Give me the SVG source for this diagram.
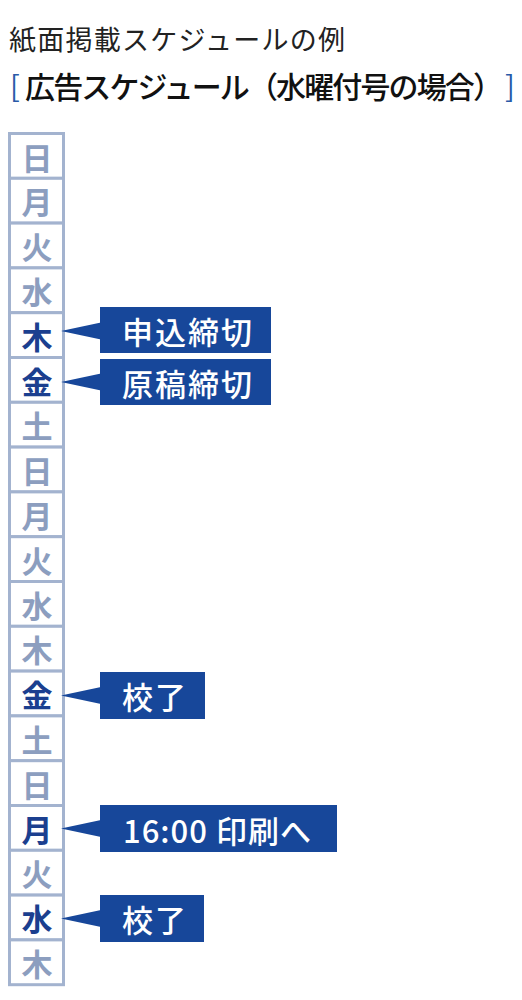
<svg xmlns="http://www.w3.org/2000/svg" width="522" height="1000" viewBox="0 0 522 1000">
<style>
.t1{font-family:"Noto Sans CJK JP","Noto Sans",sans-serif;font-size:27px;fill:#222}
.t2{font-family:"Noto Sans CJK JP","Noto Sans",sans-serif;font-size:30px;font-weight:500;fill:#111}
.br{font-family:"Noto Sans CJK JP","Noto Sans",sans-serif;font-size:29px;fill:#2a5aa8}
.cell{fill:#fff;stroke:#a3b3cf;stroke-width:3}
.d{font-family:"Noto Sans CJK JP","Noto Sans",sans-serif;font-size:31px;font-weight:bold;fill:#8c9ebf;text-anchor:middle}
.d.on{fill:#1b3f8f}
.cb{fill:#17479a}
.ct{font-family:"Noto Sans CJK JP","Noto Sans",sans-serif;font-size:31px;font-weight:500;fill:#fff;letter-spacing:2px}
</style>
<rect width="522" height="1000" fill="#fff"/>
<text class="t1" x="9" y="50" textLength="336">紙面掲載スケジュールの例</text>
<text class="br" x="10" y="97">[</text>
<text class="t2" x="25" y="97.5" textLength="478">広告スケジュール（水曜付号の場合）</text>
<text class="br" x="505" y="97">]</text>
<g id="calendar">
<g id="d0"><rect class="cell" x="9.5" y="133.5" width="54" height="44.8"/><text class="d" x="37" y="169.5">日</text></g>
<g id="d1"><rect class="cell" x="9.5" y="178.3" width="54" height="44.8"/><text class="d" x="37" y="214.3">月</text></g>
<g id="d2"><rect class="cell" x="9.5" y="223.1" width="54" height="44.8"/><text class="d" x="37" y="259.1">火</text></g>
<g id="d3"><rect class="cell" x="9.5" y="267.9" width="54" height="44.8"/><text class="d" x="37" y="303.9">水</text></g>
<g id="d4"><rect class="cell" x="9.5" y="312.7" width="54" height="44.8"/><text class="d on" x="37" y="348.7">木</text></g>
<g id="d5"><rect class="cell" x="9.5" y="357.5" width="54" height="44.8"/><text class="d on" x="37" y="393.5">金</text></g>
<g id="d6"><rect class="cell" x="9.5" y="402.3" width="54" height="44.8"/><text class="d" x="37" y="438.3">土</text></g>
<g id="d7"><rect class="cell" x="9.5" y="447.1" width="54" height="44.8"/><text class="d" x="37" y="483.1">日</text></g>
<g id="d8"><rect class="cell" x="9.5" y="491.9" width="54" height="44.8"/><text class="d" x="37" y="527.9">月</text></g>
<g id="d9"><rect class="cell" x="9.5" y="536.7" width="54" height="44.8"/><text class="d" x="37" y="572.7">火</text></g>
<g id="d10"><rect class="cell" x="9.5" y="581.5" width="54" height="44.8"/><text class="d" x="37" y="617.5">水</text></g>
<g id="d11"><rect class="cell" x="9.5" y="626.3" width="54" height="44.8"/><text class="d" x="37" y="662.3">木</text></g>
<g id="d12"><rect class="cell" x="9.5" y="671.1" width="54" height="44.8"/><text class="d on" x="37" y="707.1">金</text></g>
<g id="d13"><rect class="cell" x="9.5" y="715.9" width="54" height="44.8"/><text class="d" x="37" y="751.9">土</text></g>
<g id="d14"><rect class="cell" x="9.5" y="760.7" width="54" height="44.8"/><text class="d" x="37" y="796.7">日</text></g>
<g id="d15"><rect class="cell" x="9.5" y="805.5" width="54" height="44.8"/><text class="d on" x="37" y="841.5">月</text></g>
<g id="d16"><rect class="cell" x="9.5" y="850.3" width="54" height="44.8"/><text class="d" x="37" y="886.3">火</text></g>
<g id="d17"><rect class="cell" x="9.5" y="895.1" width="54" height="44.8"/><text class="d on" x="37" y="931.1">水</text></g>
<g id="d18"><rect class="cell" x="9.5" y="939.9" width="54" height="44.8"/><text class="d" x="37" y="975.9">木</text></g>
</g>
<g id="connectors">
<polygon class="cb" points="61,331 101,322.5 101,339.5"/>
<polygon class="cb" points="61,382 101,373.5 101,390.5"/>
<polygon class="cb" points="61,695.5 101,687 101,704"/>
<polygon class="cb" points="61,828.5 101,820 101,837"/>
<polygon class="cb" points="61,918.5 101,910 101,927"/>
</g>
<g id="c1"><rect class="cb" x="100" y="307" width="171" height="46"/><text class="ct" x="122" y="343.5">申込締切</text></g>
<g id="c2"><rect class="cb" x="100" y="359" width="171" height="46"/><text class="ct" x="122" y="395.5">原稿締切</text></g>
<g id="c3"><rect class="cb" x="100" y="672" width="105" height="47"/><text class="ct" x="122" y="708.5">校了</text></g>
<g id="c4"><rect class="cb" x="100" y="805" width="237" height="47"/><text class="ct" x="123" y="842.5" textLength="190" lengthAdjust="spacing">16:00 印刷へ</text></g>
<g id="c5"><rect class="cb" x="100" y="895" width="104" height="47"/><text class="ct" x="122" y="931.5">校了</text></g>
</svg>
